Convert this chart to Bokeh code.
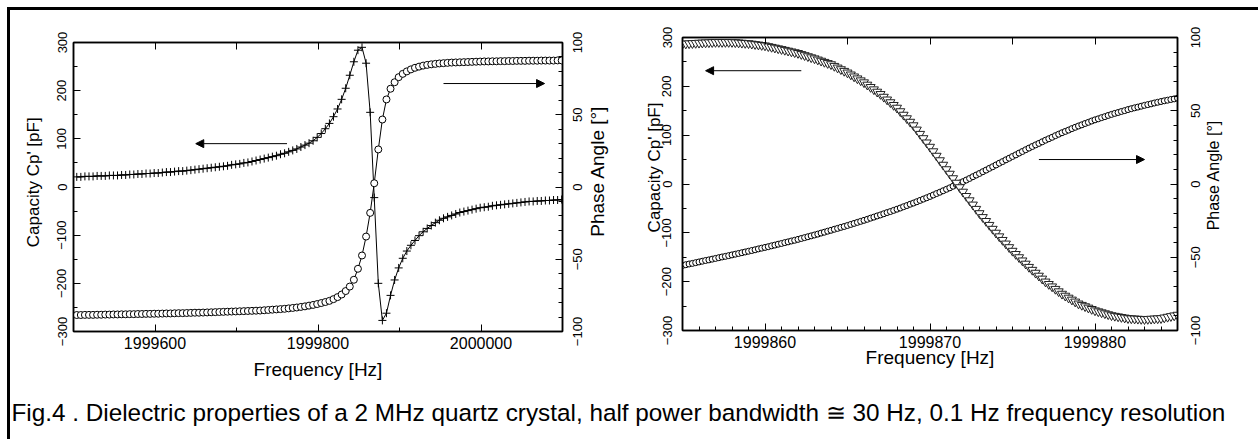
import math
import numpy as np
from bokeh.plotting import figure
from bokeh.models import (Range1d, LinearAxis, SingleIntervalTicker, BasicTickFormatter,
                          Arrow, NormalHead, Label, Spacer)
from bokeh.layouts import row, column
from bokeh.embed import file_html
from bokeh.resources import INLINE

FONT = "Liberation Sans"

# ---------------- data ----------------
# left panel: 5 Hz sweep
left_f_start = 1999504
left_f_step = 5
left_capacity = [
    21, 21, 22, 22, 22, 23, 23, 23, 24, 24,
    24, 25, 25, 26, 26, 27, 27, 28, 28, 29,
    29, 30, 31, 31, 32, 33, 33, 34, 35, 36,
    37, 38, 39, 40, 41, 42, 43, 44, 46, 47,
    48, 50, 51, 53, 55, 57, 59, 61, 63, 65,
    68, 70, 73, 76, 79, 83, 87, 91, 96, 103,
    111, 121, 132, 146, 162, 182, 205, 232, 260, 284,
    290, 257, 155, -22, -200, -277, -262, -225, -193, -168,
    -148, -133, -121, -111, -101, -93, -86, -80, -74, -69,
    -65, -62, -59, -56, -53, -51, -49, -47, -45, -43,
    -42, -41, -39, -38, -37, -36, -35, -34, -33, -32,
    -31, -30, -30, -29, -29, -28, -28, -27, -27, -26]
left_phase = [
    -88.6, -88.6, -88.5, -88.5, -88.5, -88.4, -88.4, -88.3, -88.3, -88.2,
    -88.2, -88.1, -88.1, -88.0, -88.0, -87.9, -87.9, -87.8, -87.8, -87.7,
    -87.7, -87.6, -87.5, -87.5, -87.4, -87.3, -87.3, -87.2, -87.1, -87.0,
    -87.0, -86.9, -86.8, -86.7, -86.6, -86.5, -86.4, -86.3, -86.2, -86.1,
    -86.0, -85.9, -85.8, -85.7, -85.6, -85.5, -85.3, -85.1, -84.9, -84.7,
    -84.5, -84.3, -84.0, -83.7, -83.4, -83.0, -82.6, -82.1, -81.6, -81.0,
    -80.3, -79.6, -78.8, -77.6, -76.2, -74.4, -72.0, -68.9, -64.2, -56.6,
    -47.4, -34.3, -17.9, 2.6, 26.0, 46.7, 60.6, 68.0, 72.5, 76.0,
    78.3, 80.0, 81.4, 82.5, 83.3, 84.0, 84.5, 84.9, 85.2, 85.5,
    85.7, 85.9, 86.1, 86.2, 86.3, 86.4, 86.5, 86.6, 86.7, 86.8,
    86.9, 86.9, 87.0, 87.0, 87.1, 87.1, 87.2, 87.2, 87.3, 87.3,
    87.3, 87.4, 87.4, 87.4, 87.5, 87.5, 87.5, 87.5, 87.6, 87.6]

# right panel: 0.2 Hz sweep
right_f_start = 1999855
right_f_step = 0.2
right_capacity = [
    287, 287.4, 287.8, 288.2, 288.6, 289, 289.3, 289.6, 289.9, 290.2,
    290.5, 290.5, 290.5, 290.5, 290.5, 290.5, 290, 289.5, 289, 288.5,
    288, 287.1, 286.2, 285.3, 284.4, 283.5, 282, 280.5, 279, 277.5,
    276, 274.4, 272.8, 271.2, 269.6, 268, 265.8, 263.6, 261.4, 259.2,
    257, 254.6, 252.2, 249.8, 247.4, 245, 241.6, 238.2, 234.8, 231.4,
    228, 224, 220, 216, 212, 208, 203.2, 198.4, 193.6, 188.8,
    184, 178.4, 172.8, 167.2, 161.6, 156, 148.8, 141.6, 134.4, 127.2,
    120, 111.2, 102.4, 93.6, 84.8, 76, 66.8, 57.6, 48.4, 39.2,
    30, 20.8, 11.6, 2.4, -6.8, -16, -24.8, -33.6, -42.4, -51.2,
    -60, -68, -76, -84, -92, -100, -107.4, -114.8, -122.2, -129.6,
    -137, -143.6, -150.2, -156.8, -163.4, -170, -176, -182, -188, -194,
    -200, -205, -210, -215, -220, -225, -229, -233, -237, -241,
    -245, -247.8, -250.6, -253.4, -256.2, -259, -261, -263, -265, -267,
    -269, -270.2, -271.4, -272.6, -273.8, -275, -275.4, -275.8, -276.2, -276.6,
    -277, -276.6, -276.2, -275.8, -275.4, -275, -273.6, -272.2, -270.8, -269.4,
    -268]
right_phase = [
    -55.6, -55.1, -54.6, -54.2, -53.7, -53.2, -52.7, -52.2, -51.8, -51.3,
    -50.8, -50.3, -49.8, -49.4, -48.9, -48.4, -47.9, -47.4, -46.9, -46.4,
    -45.9, -45.4, -44.9, -44.3, -43.8, -43.3, -42.8, -42.2, -41.7, -41.1,
    -40.6, -40.0, -39.5, -38.9, -38.4, -37.8, -37.2, -36.6, -36.0, -35.4,
    -34.8, -34.2, -33.5, -32.9, -32.2, -31.6, -30.9, -30.3, -29.6, -29.0,
    -28.3, -27.6, -26.9, -26.2, -25.5, -24.8, -24.1, -23.3, -22.6, -21.8,
    -21.1, -20.3, -19.5, -18.8, -18.0, -17.2, -16.4, -15.5, -14.7, -13.8,
    -13.0, -12.1, -11.2, -10.3, -9.4, -8.5, -7.5, -6.5, -5.6, -4.6,
    -3.6, -2.6, -1.5, -0.5, 0.6, 1.6, 2.7, 3.8, 5.0, 6.1,
    7.2, 8.4, 9.5, 10.7, 11.8, 13.0, 14.2, 15.3, 16.5, 17.6,
    18.8, 19.9, 21.1, 22.2, 23.4, 24.5, 25.6, 26.7, 27.7, 28.8,
    29.9, 30.9, 31.9, 33.0, 34.0, 35.0, 35.9, 36.8, 37.8, 38.7,
    39.6, 40.4, 41.3, 42.1, 43.0, 43.8, 44.5, 45.3, 46.0, 46.8,
    47.5, 48.2, 48.8, 49.5, 50.1, 50.8, 51.4, 52.0, 52.5, 53.1,
    53.7, 54.2, 54.7, 55.3, 55.8, 56.3, 56.8, 57.2, 57.7, 58.1,
    58.6]

left_freq = left_f_start + left_f_step * np.arange(len(left_capacity))
right_freq = right_f_start + right_f_step * np.arange(len(right_capacity))

x_title = "Frequency [Hz]"
cap_title = "Capacity Cp' [pF]"
phase_title = "Phase Angle [°]"
caption = ("Fig.4 . Dielectric properties of a 2 MHz quartz crystal, half power "
           "bandwidth \u2245 30 Hz, 0.1 Hz frequency resolution")

left_xlim = (1999500, 2000100)
right_xlim = (1999855, 1999885)
cap_lim = (-300, 300)
phase_lim = (-100, 100)

# arrows (x_start, y_start, x_end, y_end); capacity arrows on left axis, phase arrows on right axis
left_arrow_cap = (1999762, 90, 1999650, 90)
left_arrow_phase = (1999954, 71.6, 2000078, 71.6)
right_arrow_cap = (1999862.2, 232, 1999856.4, 232)
right_arrow_phase = (1999876.6, 16.7, 1999883.0, 16.7)

# ---------------- geometry ----------------
P1_H, P1_TOP_GAP = 372, 3
P1_BORDERS = (63, 2, 29, 54)      # left, right, top, bottom
P1_FRAME_W = 489
P2_H = 375
P2_BORDERS = (67, 2, 27, 55)
P2_FRAME_W = 495
NBSP = "\u00a0"                   # leading padding nudges a rotated title up the axis


def pad(text, n):
    return NBSP * n + text


def style_axis(ax, label_size, title_size):
    ax.axis_line_color = "black"
    ax.axis_line_width = 1.5
    ax.major_tick_line_color = "black"
    ax.minor_tick_line_color = "black"
    ax.major_tick_in = 7
    ax.major_tick_out = 0
    ax.minor_tick_in = 4
    ax.minor_tick_out = 0
    ax.major_label_text_font = FONT
    ax.major_label_text_font_size = label_size
    ax.major_label_text_color = "black"
    ax.axis_label_text_font = FONT
    ax.axis_label_text_font_size = title_size
    ax.axis_label_text_font_style = "normal"
    ax.axis_label_text_color = "black"


def make_panel(height, frame_w, xlim, borders, x_interval, x_minor, top_interval,
               xl_standoff, xt_standoff, yl_standoff, yt_standoff, y_title):
    left, right, top, bottom = borders
    p = figure(width=left + frame_w + right, height=height, title=None,
               x_range=Range1d(*xlim), y_range=Range1d(*cap_lim),
               x_axis_location=None, y_axis_location=None, toolbar_location=None,
               output_backend="svg", min_border_left=left, min_border_right=right,
               min_border_top=top, min_border_bottom=bottom)
    p.extra_y_ranges = {"phase": Range1d(*phase_lim)}
    p.xgrid.visible = False
    p.ygrid.visible = False
    p.outline_line_color = "black"
    p.outline_line_width = 1.5
    p.background_fill_color = "white"
    p.border_fill_color = "white"

    xb = LinearAxis(ticker=SingleIntervalTicker(interval=x_interval, num_minor_ticks=x_minor),
                    formatter=BasicTickFormatter(use_scientific=False), axis_label=x_title)
    style_axis(xb, "16px", "19px")
    xb.major_label_standoff = xl_standoff
    xb.axis_label_standoff = xt_standoff
    p.add_layout(xb, "below")

    xt = LinearAxis(ticker=SingleIntervalTicker(interval=top_interval, num_minor_ticks=0))
    style_axis(xt, "0px", "0px")
    xt.major_label_standoff = 0
    xt.major_label_text_alpha = 0
    p.add_layout(xt, "above")

    yl = LinearAxis(ticker=SingleIntervalTicker(interval=100, num_minor_ticks=2), axis_label=y_title)
    style_axis(yl, "13px", "17px")
    yl.major_label_orientation = "vertical"
    yl.major_label_standoff = yl_standoff
    yl.axis_label_standoff = yt_standoff
    p.add_layout(yl, "left")

    yr = LinearAxis(y_range_name="phase", ticker=SingleIntervalTicker(interval=50, num_minor_ticks=5))
    style_axis(yr, "0px", "0px")
    yr.major_label_standoff = 0
    yr.major_label_text_alpha = 0
    p.add_layout(yr, "right")
    return p


def make_phase_strip(width, left_border, height, borders, label_size, label_standoff,
                     title, title_size, title_standoff):
    """Narrow strip beside a panel on the same phase scale; its own (invisible) left axis
    writes the phase tick labels or the phase title, reading bottom-to-top."""
    _, _, top, bottom = borders
    s = figure(width=width, height=height, title=None, x_range=Range1d(0, 1),
               y_range=Range1d(*phase_lim), x_axis_location=None, y_axis_location=None,
               toolbar_location=None, output_backend="svg", min_border_left=left_border,
               min_border_right=width - left_border - 1, min_border_top=top,
               min_border_bottom=bottom)
    s.xgrid.visible = False
    s.ygrid.visible = False
    s.outline_line_color = None
    s.background_fill_color = "white"
    s.border_fill_color = "white"
    ax = LinearAxis(ticker=SingleIntervalTicker(interval=50, num_minor_ticks=0),
                    axis_label=title)
    style_axis(ax, label_size, title_size)
    ax.axis_line_color = None
    ax.major_tick_line_color = None
    ax.minor_tick_line_color = None
    ax.major_tick_in = 0
    ax.minor_tick_in = 0
    ax.major_label_orientation = "vertical"
    ax.major_label_standoff = label_standoff
    ax.axis_label_standoff = title_standoff
    if label_size == "0px":
        ax.major_label_text_alpha = 0
    s.add_layout(ax, "left")
    return s


def add_arrow(p, coords, y_range_name="default"):
    xs, ys, xe, ye = coords
    p.add_layout(Arrow(end=NormalHead(size=8, fill_color="black", line_color="black", line_width=1),
                       x_start=xs, y_start=ys, x_end=xe, y_end=ye, line_color="black",
                       line_width=1, y_range_name=y_range_name))


# ---------------- left panel ----------------
p1 = make_panel(P1_H, P1_FRAME_W, left_xlim, P1_BORDERS, 200, 2, 100, 5, 7, 7, 12,
                pad(cap_title, 2))
p1.line(left_freq, left_capacity, line_color="black", line_width=1)
p1.line(left_freq, left_phase, line_color="black", line_width=1, y_range_name="phase")
p1.scatter(left_freq, left_capacity, marker="cross", size=8, line_color="black", line_width=1)
p1.scatter(left_freq, left_phase, marker="circle", size=7, fill_color="white",
           line_color="black", line_width=1, y_range_name="phase")
add_arrow(p1, left_arrow_cap)
add_arrow(p1, left_arrow_phase, "phase")
p1_labels = make_phase_strip(20, 19, P1_H, P1_BORDERS, "13px", 2, None, "0px", 0)
p1_title = make_phase_strip(31, 30, P1_H, P1_BORDERS, "0px", 0, pad(phase_title, 6), "19px", 8)
left_group = column(Spacer(width=605, height=P1_TOP_GAP), row(p1, p1_labels, p1_title))

# ---------------- right panel ----------------
p2 = make_panel(P2_H, P2_FRAME_W, right_xlim, P2_BORDERS, 10, 10, 5, 5, -4, 11, -4,
                pad(cap_title, 7))
p2.scatter(right_freq, right_phase, marker="circle", size=6, fill_color="white",
           line_color="black", line_width=1, y_range_name="phase")
p2.scatter(right_freq, right_capacity, marker="inverted_triangle", size=9, fill_color="white",
           line_color="#222222", line_width=1)
add_arrow(p2, right_arrow_cap)
add_arrow(p2, right_arrow_phase, "phase")
p2_labels = make_phase_strip(22, 21, P2_H, P2_BORDERS, "13px", 1, None, "0px", 0)
p2_title = make_phase_strip(57, 30, P2_H, P2_BORDERS, "0px", 0, pad(phase_title, 4), "16px", 10)
right_group = row(p2, p2_labels, p2_title)

# ---------------- caption ----------------
p3 = figure(width=1248, height=54, title=None, x_range=Range1d(0, 1248), y_range=Range1d(0, 54),
            x_axis_location=None, y_axis_location=None, toolbar_location=None,
            output_backend="svg", min_border=0)
p3.xgrid.visible = False
p3.ygrid.visible = False
p3.outline_line_color = None
p3.add_layout(Label(x=1, y=27, x_units="screen", y_units="screen", text=caption, text_font=FONT,
                    text_font_size="24.3px", text_color="black", text_baseline="alphabetic"))

inner = column(row(left_group, right_group), p3)
layout = row(Spacer(width=7, height=439),
             column(Spacer(width=1251, height=7),
                    Spacer(width=1251, height=3, styles={"background-color": "black"}),
                    row(Spacer(width=3, height=429, styles={"background-color": "black"}), inner)))

open("out.html", "w").write(file_html(layout, INLINE))
